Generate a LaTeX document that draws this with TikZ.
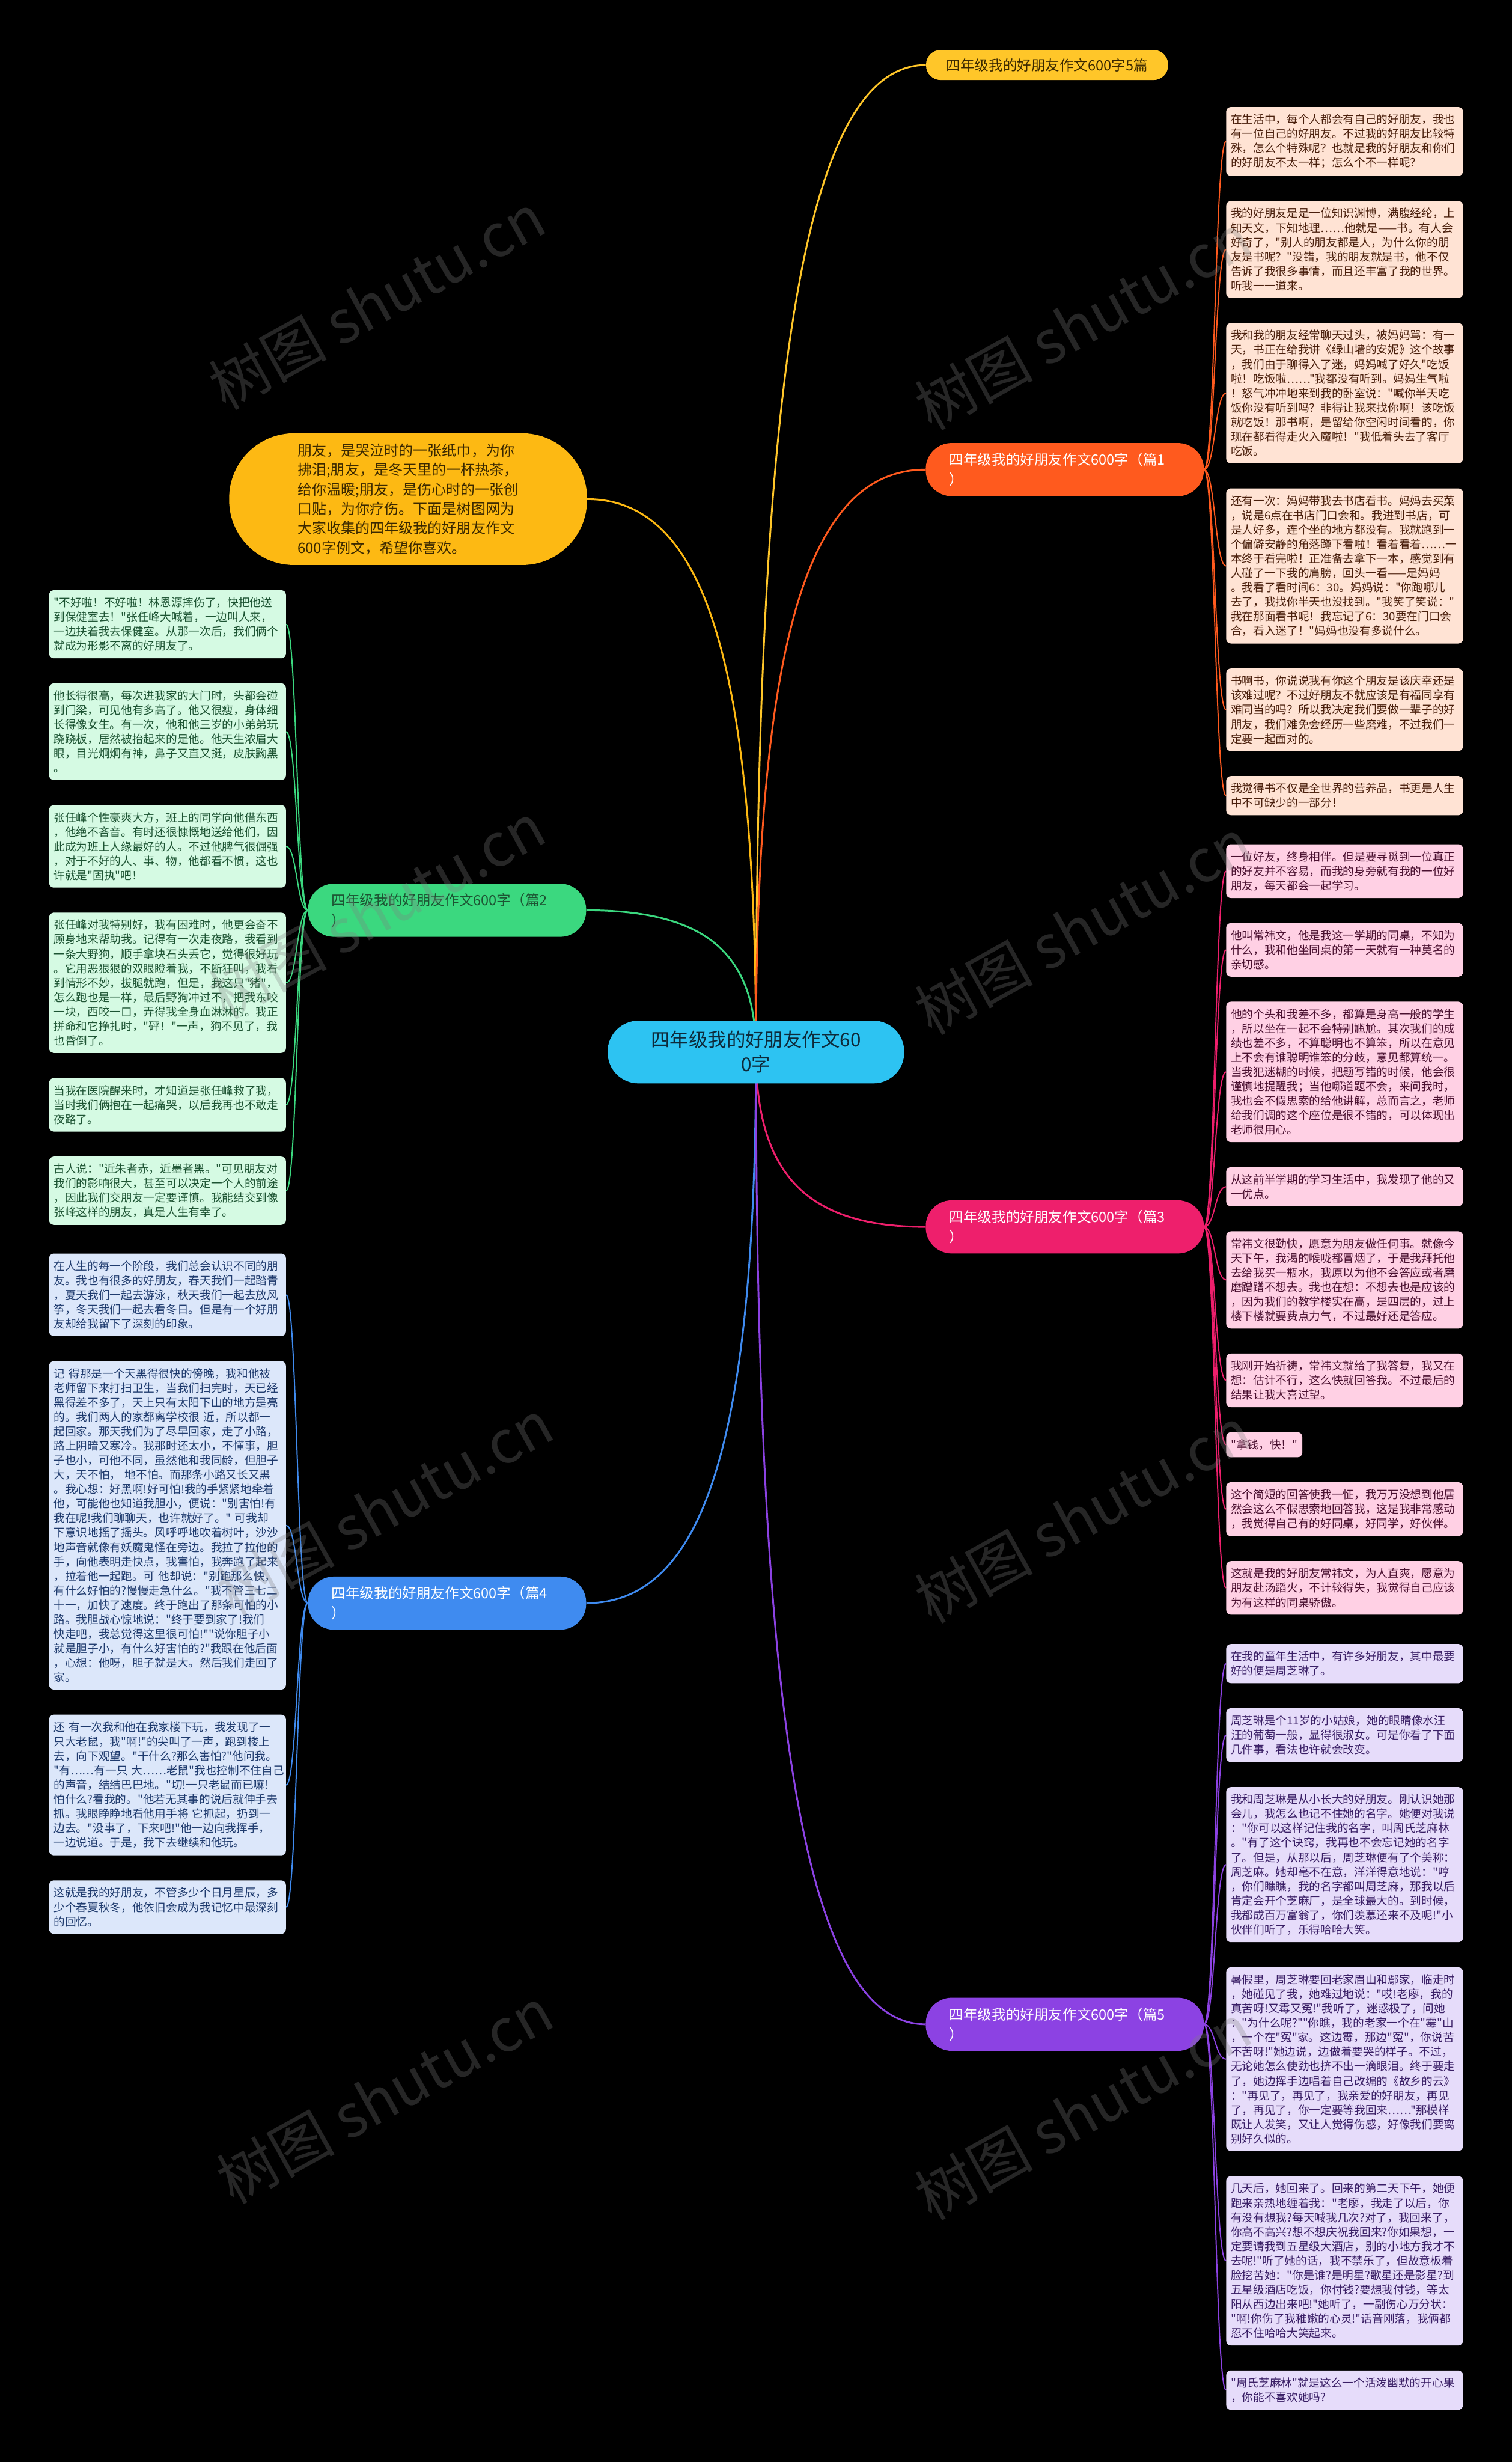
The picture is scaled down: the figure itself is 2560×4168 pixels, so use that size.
\documentclass[tikz,border=0pt]{standalone}
\usepackage{fontspec}
\newfontfamily\cjkfont{Noto Sans CJK SC}
\usetikzlibrary{positioning, calc}

\pgfdeclarelayer{backdrop}
\pgfdeclarelayer{background}
\pgfsetlayers{backdrop,background,main}

\definecolor{rootfill}{HTML}{2DC3F2}
\definecolor{roottext}{HTML}{0E2A3A}
\definecolor{introfill}{HTML}{FDB913}
\definecolor{introtext}{HTML}{3A2800}
\definecolor{topicfill}{HTML}{FFC629}
\definecolor{orangemain}{HTML}{FF5A1E}
\definecolor{orangeleaf}{HTML}{FFE3D4}
\definecolor{orangetext}{HTML}{4A1F0C}
\definecolor{greenmain}{HTML}{3BD87F}
\definecolor{greenleaf}{HTML}{D5FAE3}
\definecolor{greentext}{HTML}{1D5433}
\definecolor{pinkmain}{HTML}{EE1F6C}
\definecolor{pinkleaf}{HTML}{FFD0E4}
\definecolor{pinktext}{HTML}{4A1030}
\definecolor{bluemain}{HTML}{3F8BF0}
\definecolor{blueleaf}{HTML}{DCE7FA}
\definecolor{bluetext}{HTML}{1F3B6E}
\definecolor{purplemain}{HTML}{8C42E3}
\definecolor{purpleleaf}{HTML}{E6DCFA}
\definecolor{purpletext}{HTML}{3A1F66}

\tikzset{
    rootbox/.style={rectangle, rounded corners=52pt, fill=rootfill, text=roottext, minimum width=502pt, minimum height=106pt, align=center, font=\cjkfont\fontsize{32pt}{42pt}\selectfont},
    introbox/.style={rectangle, rounded corners=110pt, fill=introfill, text=introtext, minimum width=606pt, minimum height=223pt, align=left, font=\cjkfont\fontsize{24.5pt}{33pt}\selectfont},
    topicbox/.style={rectangle, rounded corners=25pt, fill=topicfill, text=introtext, minimum width=410pt, minimum height=51pt, align=center, font=\cjkfont\fontsize{24pt}{30pt}\selectfont},
    branch/.style={rectangle, rounded corners=44pt, minimum height=90pt, text width=391pt, inner xsep=40pt, align=left, font=\cjkfont\fontsize{24pt}{34pt}\selectfont},
    leaf/.style={rectangle, rounded corners=8pt, text width=385pt, inner xsep=8pt, inner ysep=12pt, align=left, font=\cjkfont\fontsize{19pt}{24.5pt}\selectfont},
    leaforange/.style={leaf, fill=orangeleaf, text=orangetext},
    leafgreen/.style={leaf, fill=greenleaf, text=greentext},
    leafpink/.style={leaf, fill=pinkleaf, text=pinktext},
    leafblue/.style={leaf, fill=blueleaf, text=bluetext},
    leafpurple/.style={leaf, fill=purpleleaf, text=purpletext},
    mainlink/.style={line width=3pt, to path={.. controls ($(\tikztostart)!0.7!(\tikztostart |- \tikztotarget)$) and ($(\tikztostart |- \tikztotarget)!0.3!(\tikztotarget)$) .. (\tikztotarget)}},
    leaflink/.style={line width=2pt, to path={.. controls ($(\tikztostart)!0.5!(\tikztostart -| \tikztotarget)$) and ($(\tikztotarget)!0.5!(\tikztotarget -| \tikztostart)$) .. (\tikztotarget)}},
    wmark/.style={text=gray, opacity=0.3, rotate=29, font=\cjkfont\fontsize{100pt}{100pt}\selectfont}
}

\begin{document}
\begin{tikzpicture}[x=1pt, y=-1pt]
    \begin{pgfonlayer}{backdrop}
        \fill[black] (0,0) rectangle (2560,4168);
    \end{pgfonlayer}
    \useasboundingbox (0,0) rectangle (2560,4168);

    % Root and introduction
    \node[rootbox] (root) at (1280,1781) {四年级我的好朋友作文60\\0字};
    \node[introbox] (intro) at (691,845) {朋友，是哭泣时的一张纸巾，为你\\拂泪;朋友，是冬天里的一杯热茶，\\给你温暖;朋友，是伤心时的一张创\\口贴，为你疗伤。下面是树图网为\\大家收集的四年级我的好朋友作文\\600字例文，希望你喜欢。};

    % Branches
    \node[topicbox] (topic) at (1773,110) {四年级我的好朋友作文600字5篇};
    \node[branch, fill=orangemain, text=white] (art1) at (1803,795) {四年级我的好朋友作文600字（篇1\\）};
    \node[branch, fill=greenmain, text=greentext] (art2) at (757,1541) {四年级我的好朋友作文600字（篇2\\）};
    \node[branch, fill=pinkmain, text=white] (art3) at (1803,2077) {四年级我的好朋友作文600字（篇3\\）};
    \node[branch, fill=bluemain, text=white] (art4) at (757,2714) {四年级我的好朋友作文600字（篇4\\）};
    \node[branch, fill=purplemain, text=white] (art5) at (1803,3427) {四年级我的好朋友作文600字（篇5\\）};

    % Essay 1
    \node[leaforange, anchor=north west] (o1) at (2076,181) {在生活中，每个人都会有自己的好朋友，我也\\有一位自己的好朋友。不过我的好朋友比较特\\殊，怎么个特殊呢？也就是我的好朋友和你们\\的好朋友不太一样；怎么个不一样呢？};
    \node[leaforange, below=42pt of o1.south west, anchor=north west] (o2) {我的好朋友是是一位知识渊博，满腹经纶，上\\知天文，下知地理……他就是——书。有人会\\好奇了，"别人的朋友都是人，为什么你的朋\\友是书呢？"没错，我的朋友就是书，他不仅\\告诉了我很多事情，而且还丰富了我的世界。\\听我一一道来。};
    \node[leaforange, below=42pt of o2.south west, anchor=north west] (o3) {我和我的朋友经常聊天过头，被妈妈骂：有一\\天，书正在给我讲《绿山墙的安妮》这个故事\\，我们由于聊得入了迷，妈妈喊了好久"吃饭\\啦！吃饭啦……"我都没有听到。妈妈生气啦\\！怒气冲冲地来到我的卧室说："喊你半天吃\\饭你没有听到吗？非得让我来找你啊！该吃饭\\就吃饭！那书啊，是留给你空闲时间看的，你\\现在都看得走火入魔啦！"我低着头去了客厅\\吃饭。};
    \node[leaforange, below=42pt of o3.south west, anchor=north west] (o4) {还有一次：妈妈带我去书店看书。妈妈去买菜\\，说是6点在书店门口会和。我进到书店，可\\是人好多，连个坐的地方都没有。我就跑到一\\个偏僻安静的角落蹲下看啦！看着看着……一\\本终于看完啦！正准备去拿下一本，感觉到有\\人碰了一下我的肩膀，回头一看——是妈妈\\。我看了看时间6：30。妈妈说："你跑哪儿\\去了，我找你半天也没找到。"我笑了笑说："\\我在那面看书呢！我忘记了6：30要在门口会\\合，看入迷了！"妈妈也没有多说什么。};
    \node[leaforange, below=42pt of o4.south west, anchor=north west] (o5) {书啊书，你说说我有你这个朋友是该庆幸还是\\该难过呢？不过好朋友不就应该是有福同享有\\难同当的吗？所以我决定我们要做一辈子的好\\朋友，我们难免会经历一些磨难，不过我们一\\定要一起面对的。};
    \node[leaforange, below=42pt of o5.south west, anchor=north west] (o6) {我觉得书不仅是全世界的营养品，书更是人生\\中不可缺少的一部分！};

    % Essay 2
    \node[leafgreen, anchor=north west] (g1) at (83,999) {"不好啦！不好啦！林恩源摔伤了，快把他送\\到保健室去！"张任峰大喊着，一边叫人来，\\一边扶着我去保健室。从那一次后，我们俩个\\就成为形影不离的好朋友了。};
    \node[leafgreen, below=42pt of g1.south west, anchor=north west] (g2) {他长得很高，每次进我家的大门时，头都会碰\\到门梁，可见他有多高了。他又很瘦，身体细\\长得像女生。有一次，他和他三岁的小弟弟玩\\跷跷板，居然被抬起来的是他。他天生浓眉大\\眼，目光炯炯有神，鼻子又直又挺，皮肤黝黑\\。};
    \node[leafgreen, below=42pt of g2.south west, anchor=north west] (g3) {张任峰个性豪爽大方，班上的同学向他借东西\\，他绝不吝音。有时还很慷慨地送给他们，因\\此成为班上人缘最好的人。不过他脾气很倔强\\，对于不好的人、事、物，他都看不惯，这也\\许就是"固执"吧！};
    \node[leafgreen, below=42pt of g3.south west, anchor=north west] (g4) {张任峰对我特别好，我有困难时，他更会奋不\\顾身地来帮助我。记得有一次走夜路，我看到\\一条大野狗，顺手拿块石头丢它，觉得很好玩\\。它用恶狠狠的双眼瞪着我，不断狂叫，我看\\到情形不妙，拔腿就跑，但是，我这只"猪"，\\怎么跑也是一样，最后野狗冲过不，把我东咬\\一块，西咬一口，弄得我全身血淋淋的。我正\\拼命和它挣扎时，"砰！"一声，狗不见了，我\\也昏倒了。};
    \node[leafgreen, below=42pt of g4.south west, anchor=north west] (g5) {当我在医院醒来时，才知道是张任峰救了我，\\当时我们俩抱在一起痛哭，以后我再也不敢走\\夜路了。};
    \node[leafgreen, below=42pt of g5.south west, anchor=north west] (g6) {古人说："近朱者赤，近墨者黑。"可见朋友对\\我们的影响很大，甚至可以决定一个人的前途\\，因此我们交朋友一定要谨慎。我能结交到像\\张峰这样的朋友，真是人生有幸了。};

    % Essay 3
    \node[leafpink, anchor=north west] (p1) at (2076,1429) {一位好友，终身相伴。但是要寻觅到一位真正\\的好友并不容易，而我的身旁就有我的一位好\\朋友，每天都会一起学习。};
    \node[leafpink, below=42pt of p1.south west, anchor=north west] (p2) {他叫常祎文，他是我这一学期的同桌，不知为\\什么，我和他坐同桌的第一天就有一种莫名的\\亲切感。};
    \node[leafpink, below=42pt of p2.south west, anchor=north west] (p3) {他的个头和我差不多，都算是身高一般的学生\\，所以坐在一起不会特别尴尬。其次我们的成\\绩也差不多，不算聪明也不算笨，所以在意见\\上不会有谁聪明谁笨的分歧，意见都算统一。\\当我犯迷糊的时候，把题写错的时候，他会很\\谨慎地提醒我；当他哪道题不会，来问我时，\\我也会不假思索的给他讲解，总而言之，老师\\给我们调的这个座位是很不错的，可以体现出\\老师很用心。};
    \node[leafpink, below=42pt of p3.south west, anchor=north west] (p4) {从这前半学期的学习生活中，我发现了他的又\\一优点。};
    \node[leafpink, below=42pt of p4.south west, anchor=north west] (p5) {常祎文很勤快，愿意为朋友做任何事。就像今\\天下午，我渴的喉咙都冒烟了，于是我拜托他\\去给我买一瓶水，我原以为他不会答应或者磨\\磨蹭蹭不想去。我也在想：不想去也是应该的\\，因为我们的教学楼实在高，是四层的，过上\\楼下楼就要费点力气，不过最好还是答应。};
    \node[leafpink, below=42pt of p5.south west, anchor=north west] (p6) {我刚开始祈祷，常祎文就给了我答复，我又在\\想：估计不行，这么快就回答我。不过最后的\\结果让我大喜过望。};
    \node[leafpink, text width=, below=42pt of p6.south west, anchor=north west] (p7) {"拿钱，快！"};
    \node[leafpink, below=42pt of p7.south west, anchor=north west] (p8) {这个简短的回答使我一怔，我万万没想到他居\\然会这么不假思索地回答我，这是我非常感动\\，我觉得自己有的好同桌，好同学，好伙伴。};
    \node[leafpink, below=42pt of p8.south west, anchor=north west] (p9) {这就是我的好朋友常祎文，为人直爽，愿意为\\朋友赴汤蹈火，不计较得失，我觉得自己应该\\为有这样的同桌骄傲。};

    % Essay 4
    \node[leafblue, anchor=north west] (b1) at (83,2122) {在人生的每一个阶段，我们总会认识不同的朋\\友。我也有很多的好朋友，春天我们一起踏青\\，夏天我们一起去游泳，秋天我们一起去放风\\筝，冬天我们一起去看冬日。但是有一个好朋\\友却给我留下了深刻的印象。};
    \node[leafblue, below=42pt of b1.south west, anchor=north west] (b2) {记~得那是一个天黑得很快的傍晚，我和他被\\老师留下来打扫卫生，当我们扫完时，天已经\\黑得差不多了，天上只有太阳下山的地方是亮\\的。我们两人的家都离学校很~近，所以都一\\起回家。那天我们为了尽早回家，走了小路，\\路上阴暗又寒冷。我那时还太小，不懂事，胆\\子也小，可他不同，虽然他和我同龄，但胆子\\大，天不怕，~地不怕。而那条小路又长又黑\\。我心想：好黑啊!好可怕!我的手紧紧地牵着\\他，可能他也知道我胆小，便说："别害怕!有\\我在呢!我们聊聊天，也许就好了。"~可我却\\下意识地摇了摇头。风呼呼地吹着树叶，沙沙\\地声音就像有妖魔鬼怪在旁边。我拉了拉他的\\手，向他表明走快点，我害怕，我奔跑了起来\\，拉着他一起跑。可~他却说："别跑那么快，\\有什么好怕的?慢慢走急什么。"我不管三七二\\十一，加快了速度。终于跑出了那条可怕的小\\路。我胆战心惊地说："终于要到家了!我们\\快走吧，我总觉得这里很可怕!""说你胆子小\\就是胆子小，有什么好害怕的?"我跟在他后面\\，心想：他呀，胆子就是大。然后我们走回了\\家。};
    \node[leafblue, below=42pt of b2.south west, anchor=north west] (b3) {还~有一次我和他在我家楼下玩，我发现了一\\只大老鼠，我"啊!"的尖叫了一声，跑到楼上\\去，向下观望。"干什么?那么害怕?"他问我。\\"有……有一只~大……老鼠"我也控制不住自己\\的声音，结结巴巴地。"切!一只老鼠而已嘛!\\怕什么?看我的。"他若无其事的说后就伸手去\\抓。我眼睁睁地看他用手将~它抓起，扔到一\\边去。"没事了，下来吧!"他一边向我挥手，\\一边说道。于是，我下去继续和他玩。};
    \node[leafblue, below=42pt of b3.south west, anchor=north west] (b4) {这就是我的好朋友，不管多少个日月星辰，多\\少个春夏秋冬，他依旧会成为我记忆中最深刻\\的回忆。};

    % Essay 5
    \node[leafpurple, anchor=north west] (u1) at (2076,2783) {在我的童年生活中，有许多好朋友，其中最要\\好的便是周芝琳了。};
    \node[leafpurple, below=42pt of u1.south west, anchor=north west] (u2) {周芝琳是个11岁的小姑娘，她的眼睛像水汪\\汪的葡萄一般，显得很淑女。可是你看了下面\\几件事，看法也许就会改变。};
    \node[leafpurple, below=42pt of u2.south west, anchor=north west] (u3) {我和周芝琳是从小长大的好朋友。刚认识她那\\会儿，我怎么也记不住她的名字。她便对我说\\："你可以这样记住我的名字，叫周氏芝麻林\\。"有了这个诀窍，我再也不会忘记她的名字\\了。但是，从那以后，周芝琳便有了个美称：\\周芝麻。她却毫不在意，洋洋得意地说："哼\\，你们瞧瞧，我的名字都叫周芝麻，那我以后\\肯定会开个芝麻厂，是全球最大的。到时候，\\我都成百万富翁了，你们羡慕还来不及呢!"小\\伙伴们听了，乐得哈哈大笑。};
    \node[leafpurple, below=42pt of u3.south west, anchor=north west] (u4) {暑假里，周芝琳要回老家眉山和鄢家，临走时\\，她碰见了我，她难过地说："哎!老廖，我的\\真苦呀!又霉又冤!"我听了，迷惑极了，问她\\："为什么呢?""你瞧，我的老家一个在"霉"山\\，一个在"冤"家。这边霉，那边"冤"，你说苦\\不苦呀!"她边说，边做着要哭的样子。不过，\\无论她怎么使劲也挤不出一滴眼泪。终于要走\\了，她边挥手边唱着自己改编的《故乡的云》\\："再见了，再见了，我亲爱的好朋友，再见\\了，再见了，你一定要等我回来……"那模样\\既让人发笑，又让人觉得伤感，好像我们要离\\别好久似的。};
    \node[leafpurple, below=42pt of u4.south west, anchor=north west] (u5) {几天后，她回来了。回来的第二天下午，她便\\跑来亲热地缠着我："老廖，我走了以后，你\\有没有想我?每天喊我几次?对了，我回来了，\\你高不高兴?想不想庆祝我回来?你如果想，一\\定要请我到五星级大酒店，别的小地方我才不\\去呢!"听了她的话，我不禁乐了，但故意板着\\脸挖苦她："你是谁?是明星?歌星还是影星?到\\五星级酒店吃饭，你付钱?要想我付钱，等太\\阳从西边出来吧!"她听了，一副伤心万分状：\\"啊!你伤了我稚嫩的心灵!"话音刚落，我俩都\\忍不住哈哈大笑起来。};
    \node[leafpurple, below=42pt of u5.south west, anchor=north west] (u6) {"周氏芝麻林"就是这么一个活泼幽默的开心果\\，你能不喜欢她吗?};

    % Connectors
    \begin{pgfonlayer}{background}
        \draw[mainlink, topicfill] (root.center) to (topic.west);
        \draw[mainlink, introfill] (root.center) to (intro.east);
        \draw[mainlink, orangemain] (root.center) to (art1.west);
        \draw[mainlink, greenmain] (root.center) to (art2.east);
        \draw[mainlink, pinkmain] (root.center) to (art3.west);
        \draw[mainlink, bluemain] (root.center) to (art4.east);
        \draw[mainlink, purplemain] (root.center) to (art5.west);

        \draw[leaflink, orangemain] (art1.east) to (o1.west);
        \draw[leaflink, orangemain] (art1.east) to (o2.west);
        \draw[leaflink, orangemain] (art1.east) to (o3.west);
        \draw[leaflink, orangemain] (art1.east) to (o4.west);
        \draw[leaflink, orangemain] (art1.east) to (o5.west);
        \draw[leaflink, orangemain] (art1.east) to (o6.west);

        \draw[leaflink, greenmain] (art2.west) to (g1.east);
        \draw[leaflink, greenmain] (art2.west) to (g2.east);
        \draw[leaflink, greenmain] (art2.west) to (g3.east);
        \draw[leaflink, greenmain] (art2.west) to (g4.east);
        \draw[leaflink, greenmain] (art2.west) to (g5.east);
        \draw[leaflink, greenmain] (art2.west) to (g6.east);

        \draw[leaflink, pinkmain] (art3.east) to (p1.west);
        \draw[leaflink, pinkmain] (art3.east) to (p2.west);
        \draw[leaflink, pinkmain] (art3.east) to (p3.west);
        \draw[leaflink, pinkmain] (art3.east) to (p4.west);
        \draw[leaflink, pinkmain] (art3.east) to (p5.west);
        \draw[leaflink, pinkmain] (art3.east) to (p6.west);
        \draw[leaflink, pinkmain] (art3.east) to (p7.west);
        \draw[leaflink, pinkmain] (art3.east) to (p8.west);
        \draw[leaflink, pinkmain] (art3.east) to (p9.west);

        \draw[leaflink, bluemain] (art4.west) to (b1.east);
        \draw[leaflink, bluemain] (art4.west) to (b2.east);
        \draw[leaflink, bluemain] (art4.west) to (b3.east);
        \draw[leaflink, bluemain] (art4.west) to (b4.east);

        \draw[leaflink, purplemain] (art5.east) to (u1.west);
        \draw[leaflink, purplemain] (art5.east) to (u2.west);
        \draw[leaflink, purplemain] (art5.east) to (u3.west);
        \draw[leaflink, purplemain] (art5.east) to (u4.west);
        \draw[leaflink, purplemain] (art5.east) to (u5.west);
        \draw[leaflink, purplemain] (art5.east) to (u6.west);
    \end{pgfonlayer}

    % Watermarks
    \node[wmark] (wm1) at (638,510) {树图 shutu.cn};
    \node[wmark] (wm2) at (1834,545) {树图 shutu.cn};
    \node[wmark] (wm3) at (638,1542) {树图 shutu.cn};
    \node[wmark] (wm4) at (1834,1568) {树图 shutu.cn};
    \node[wmark] (wm5) at (651,2552) {树图 shutu.cn};
    \node[wmark] (wm6) at (1834,2565) {树图 shutu.cn};
    \node[wmark] (wm7) at (651,3548) {树图 shutu.cn};
    \node[wmark] (wm8) at (1834,3575) {树图 shutu.cn};
\end{tikzpicture}
\end{document}
